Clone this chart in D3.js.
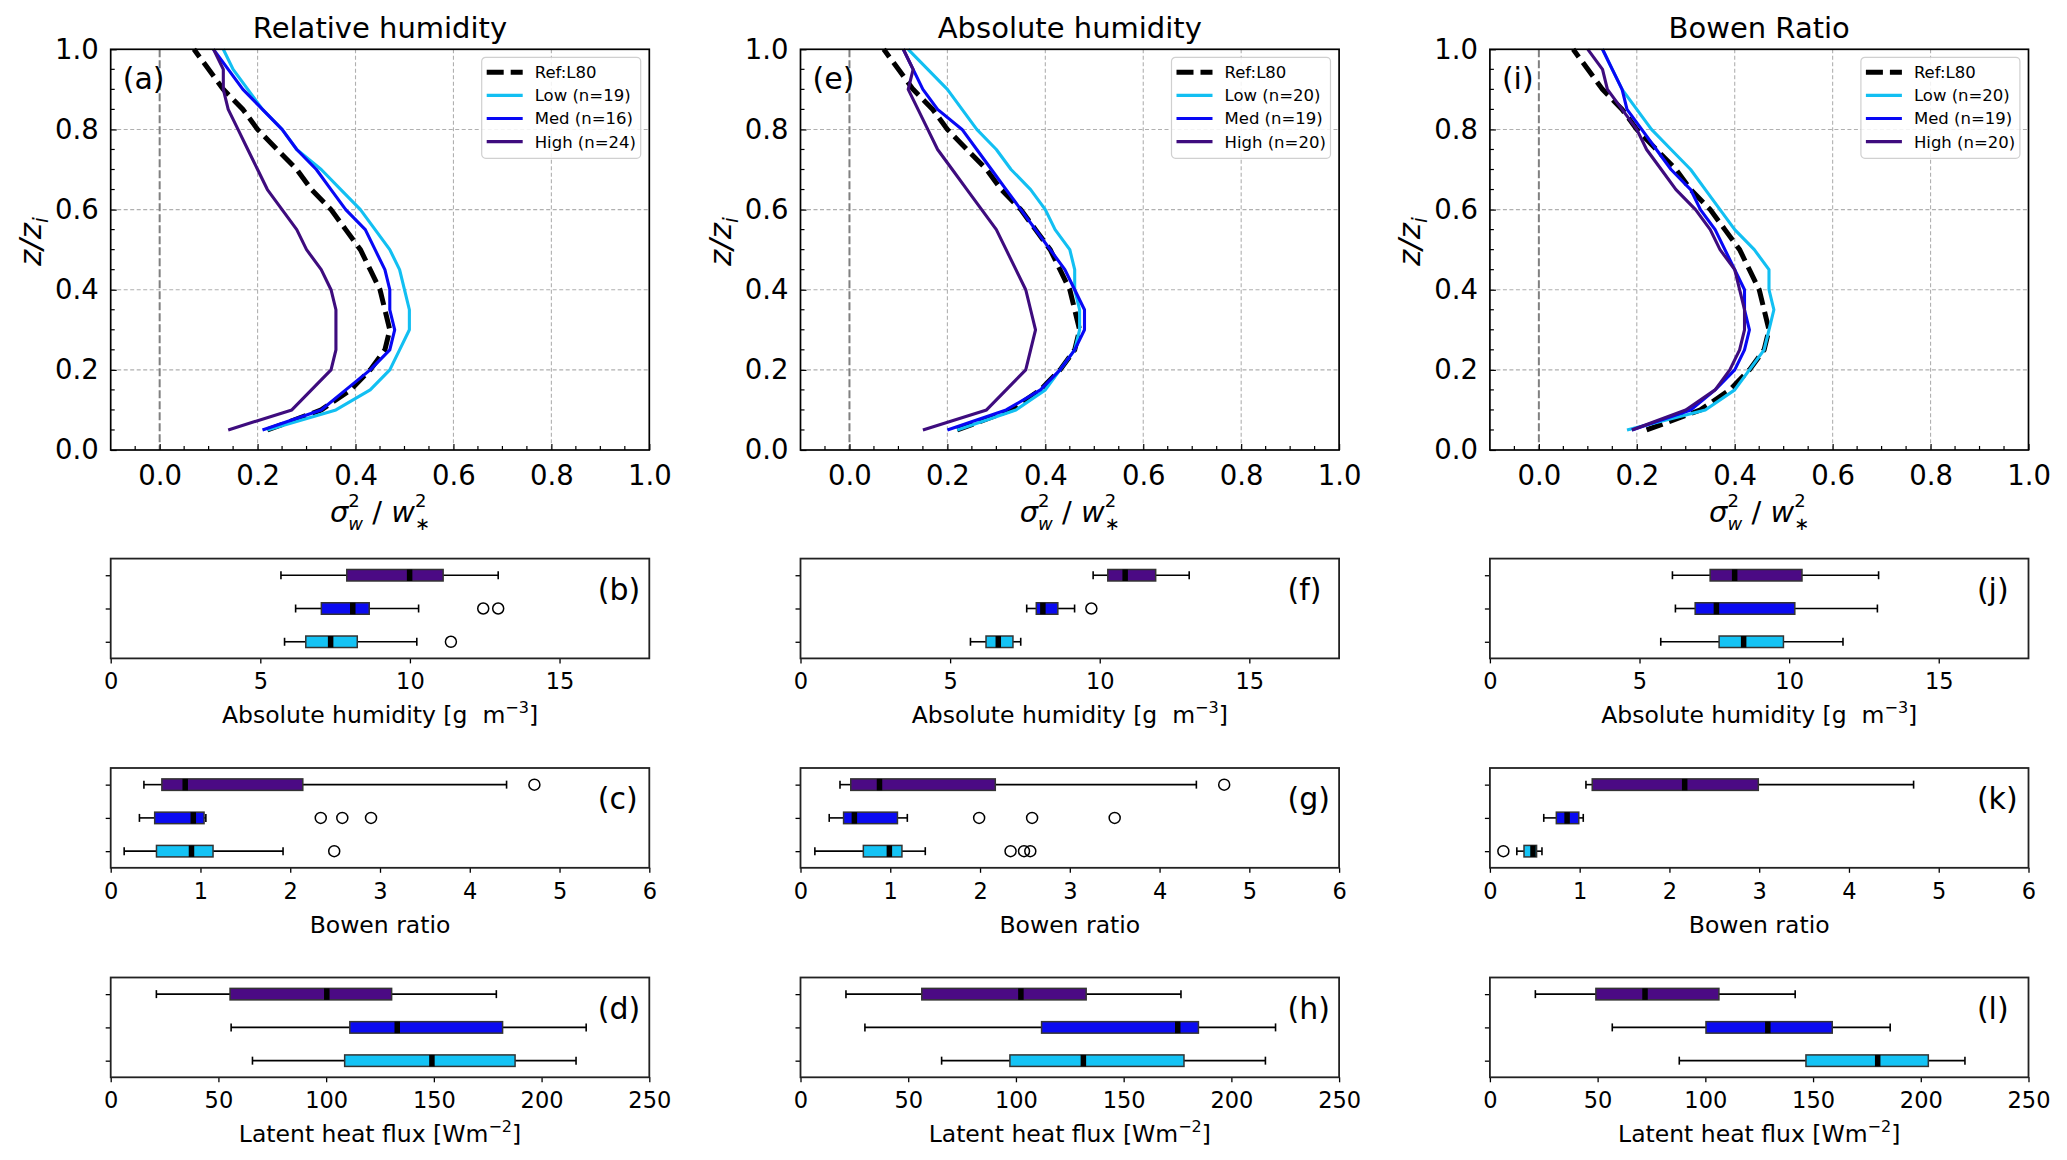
<!DOCTYPE html>
<html>
<head>
<meta charset="utf-8">
<script src="https://cdn.jsdelivr.net/npm/d3@7"></script>
<style>
body { margin: 0; background: #fff; }
text { font-family: "DejaVu Sans", sans-serif; fill: #000; }
</style>
</head>
<body>
<svg id="fig" width="2067" height="1160"></svg>
<script>
// heights of the profiles (z/zi)
var heights = [0.05, 0.10, 0.15, 0.20, 0.25, 0.30, 0.35, 0.40, 0.45, 0.50,
               0.55, 0.60, 0.65, 0.70, 0.75, 0.80, 0.85, 0.90, 0.95, 1.00];

// reference profile (Lenschow 1980)
var refL80 = [0.22, 0.33, 0.39, 0.43, 0.46, 0.47, 0.46, 0.45, 0.43, 0.41,
              0.38, 0.35, 0.31, 0.28, 0.24, 0.20, 0.17, 0.13, 0.10, 0.07];

// relative humidity classes
var rhLow  = [0.22, 0.36, 0.43, 0.47, 0.49, 0.51, 0.51, 0.50, 0.49, 0.47, 0.44, 0.41, 0.37, 0.33, 0.28, 0.25, 0.21, 0.18, 0.15, 0.13];
var rhMed  = [0.21, 0.33, 0.38, 0.43, 0.47, 0.48, 0.47, 0.47, 0.46, 0.44, 0.42, 0.38, 0.35, 0.32, 0.28, 0.25, 0.21, 0.17, 0.14, 0.11];
var rhHigh = [0.14, 0.27, 0.31, 0.35, 0.36, 0.36, 0.36, 0.35, 0.33, 0.30, 0.28, 0.25, 0.22, 0.20, 0.18, 0.16, 0.14, 0.13, 0.13, 0.11];
var rhLabels = ["Low (n=19)", "Med (n=16)", "High (n=24)"];

// absolute humidity classes
var ahLow  = [0.22, 0.34, 0.40, 0.43, 0.46, 0.47, 0.47, 0.46, 0.46, 0.45, 0.42, 0.40, 0.37, 0.33, 0.30, 0.26, 0.23, 0.20, 0.16, 0.12];
var ahMed  = [0.20, 0.32, 0.39, 0.43, 0.46, 0.48, 0.48, 0.46, 0.44, 0.41, 0.38, 0.35, 0.32, 0.29, 0.26, 0.23, 0.18, 0.15, 0.13, 0.11];
var ahHigh = [0.15, 0.28, 0.32, 0.36, 0.37, 0.38, 0.37, 0.36, 0.34, 0.32, 0.30, 0.27, 0.24, 0.21, 0.18, 0.16, 0.14, 0.12, 0.13, 0.11];
var ahLabels = ["Low (n=20)", "Med (n=19)", "High (n=20)"];

// Bowen ratio classes
var brLow  = [0.18, 0.34, 0.40, 0.43, 0.46, 0.47, 0.48, 0.47, 0.47, 0.44, 0.40, 0.37, 0.34, 0.31, 0.27, 0.23, 0.20, 0.17, 0.15, 0.13];
var brMed  = [0.19, 0.31, 0.36, 0.40, 0.42, 0.43, 0.42, 0.42, 0.40, 0.38, 0.36, 0.33, 0.31, 0.27, 0.24, 0.21, 0.18, 0.17, 0.15, 0.13];
var brHigh = [0.19, 0.30, 0.36, 0.39, 0.41, 0.42, 0.42, 0.41, 0.40, 0.37, 0.35, 0.32, 0.28, 0.25, 0.22, 0.20, 0.17, 0.14, 0.13, 0.10];
var brLabels = ["Low (n=20)", "Med (n=19)", "High (n=20)"];

var profTicks = [0.0, 0.2, 0.4, 0.6, 0.8, 1.0];

// box stats [whisker low, q1, median, q3, whisker high], rows Low, Med, High
var boxB = [[5.81, 6.52, 7.35, 8.24, 10.23], [6.18, 7.04, 8.09, 8.64, 10.29], [5.69, 7.89, 9.99, 11.11, 12.95]];
var flierB = [[11.37], [12.45, 12.95], []];
var boxC = [[0.15, 0.51, 0.90, 1.14, 1.92], [0.32, 0.49, 0.92, 1.04, 1.06], [0.37, 0.57, 0.83, 2.14, 4.41]];
var flierC = [[2.49], [2.34, 2.58, 2.90], [4.72]];
var boxD = [[65.8, 108.6, 149.1, 187.7, 216], [55.9, 111, 133, 181.9, 220.7], [21.2, 55.4, 100.3, 130.4, 179]];
var flierD = [[], [], []];

var boxF = [[5.68, 6.20, 6.61, 7.10, 7.36], [7.56, 7.88, 8.10, 8.60, 9.16], [9.78, 10.27, 10.85, 11.87, 12.99]];
var flierF = [[], [9.72], []];
var boxG = [[0.16, 0.70, 0.99, 1.13, 1.39], [0.32, 0.48, 0.60, 1.08, 1.19], [0.44, 0.56, 0.88, 2.17, 4.41]];
var flierG = [[2.34, 2.49, 2.56], [1.99, 2.58, 3.50], [4.72]];
var boxH = [[65.5, 97.2, 131.3, 178, 215.8], [29.9, 111.9, 175.1, 184.7, 220.5], [21.1, 56.3, 102.3, 132.6, 176.6]];
var flierH = [[], [], []];

var boxJ = [[5.71, 7.66, 8.48, 9.81, 11.8], [6.20, 6.86, 7.57, 10.19, 12.95], [6.10, 7.36, 8.18, 10.43, 12.99]];
var flierJ = [[], [], []];
var boxK = [[0.30, 0.38, 0.48, 0.52, 0.58], [0.60, 0.74, 0.86, 0.99, 1.04], [1.07, 1.14, 2.17, 2.99, 4.72]];
var flierK = [[0.15], [], []];
var boxL = [[87.9, 146.7, 180, 203.5, 220.5], [56.8, 100.3, 129, 158.9, 185.8], [21.1, 49.2, 72, 106.3, 141.7]];
var flierL = [[], [], []];

var ahTicks = [0, 5, 10, 15];
var brTicks = [0, 1, 2, 3, 4, 5, 6];
var leTicks = [0, 50, 100, 150, 200, 250];

var lineColors = ["#12bff2", "#0808f4", "#3e0c7e"];
var boxColors = ["#14c3f5", "#0a0af0", "#4b0a84"];

// layout
var colLeft = [110.7, 800.5, 1489.9];
var panelW = 538.6;
var profTop = 49.3, profH = 400.7;
var boxTop = [558.6, 768, 977.5], boxPanelH = 99.8;

var svg = d3.select("#fig");

// text made of pieces (sub/superscripts), centred on cx
function mathText(parent, parts, cx, cy, rotate) {
    var g = parent.append("g");
    var cursor = 0, stackStart = null, stackW = 0;
    parts.forEach(function (p) {
        var t = g.append("text")
            .attr("x", stackStart != null ? stackStart : cursor)
            .attr("y", p.dy || 0)
            .style("font-size", p.size + "px")
            .style("font-style", p.italic ? "italic" : "normal")
            .text(p.t);
        var w = t.node().getComputedTextLength();
        if (p.stack) {
            stackStart = cursor; stackW = w;
        } else if (stackStart != null) {
            cursor = stackStart + Math.max(stackW, w); stackStart = null;
        } else {
            cursor += w;
        }
    });
    g.attr("transform", "translate(" + cx + "," + cy + ")" + (rotate ? " rotate(-90)" : "") +
        " translate(" + (-cursor / 2) + ",0)");
}

function drawProfile(i, title, tag, series, labels) {
    var g = svg.append("g").attr("transform", "translate(" + colLeft[i] + "," + profTop + ")");
    var x = d3.scaleLinear().domain([-0.1, 1.0]).range([0, panelW]);
    var y = d3.scaleLinear().domain([0, 1]).range([profH, 0]);

    // grid
    g.selectAll(".gx").data([0.2, 0.4, 0.6, 0.8]).enter().append("line")
        .attr("x1", d => x(d)).attr("x2", d => x(d)).attr("y1", 0).attr("y2", profH)
        .attr("stroke", "#b0b0b0").attr("stroke-width", 1.1).attr("stroke-dasharray", "4,2.5");
    g.selectAll(".gy").data([0.2, 0.4, 0.6, 0.8]).enter().append("line")
        .attr("y1", d => y(d)).attr("y2", d => y(d)).attr("x1", 0).attr("x2", panelW)
        .attr("stroke", "#b0b0b0").attr("stroke-width", 1.1).attr("stroke-dasharray", "4,2.5");
    // zero line
    g.append("line").attr("x1", x(0)).attr("x2", x(0)).attr("y1", 0).attr("y2", profH)
        .attr("stroke", "#808080").attr("stroke-width", 2).attr("stroke-dasharray", "8,3");

    // minor ticks (inward)
    var minor = d3.range(-0.05, 1.0, 0.05).filter(v => Math.abs(v / 0.2 - Math.round(v / 0.2)) > 0.01);
    g.selectAll(".mx").data(minor).enter().append("line")
        .attr("x1", d => x(d)).attr("x2", d => x(d)).attr("y1", profH).attr("y2", profH - 4)
        .attr("stroke", "#000").attr("stroke-width", 1.2);
    var minorY = d3.range(0.05, 1.0, 0.05).filter(v => Math.abs(v / 0.2 - Math.round(v / 0.2)) > 0.01);
    g.selectAll(".my").data(minorY).enter().append("line")
        .attr("y1", d => y(d)).attr("y2", d => y(d)).attr("x1", 0).attr("x2", 4)
        .attr("stroke", "#000").attr("stroke-width", 1.2);

    // axes
    var ax = g.append("g").attr("transform", "translate(0," + profH + ")")
        .call(d3.axisBottom(x).tickValues(profTicks).tickFormat(d3.format(".1f")).tickSize(-6).tickPadding(15));
    var ay = g.append("g")
        .call(d3.axisLeft(y).tickValues(profTicks).tickFormat(d3.format(".1f")).tickSize(-6).tickPadding(12));
    [ax, ay].forEach(function (a) {
        a.select(".domain").remove();
        a.selectAll("text").style("font-size", "27.5px").style("font-family", "DejaVu Sans");
        a.selectAll("line").attr("stroke-width", 1.2);
    });

    // profiles
    var line = d3.line().x(d => x(d[0])).y(d => y(d[1]));
    g.append("path").datum(refL80.map((v, k) => [v, heights[k]])).attr("d", line)
        .attr("fill", "none").attr("stroke", "#000").attr("stroke-width", 5).attr("stroke-dasharray", "17,7");
    series.forEach(function (s, k) {
        g.append("path").datum(s.map((v, j) => [v, heights[j]])).attr("d", line)
            .attr("fill", "none").attr("stroke", lineColors[k]).attr("stroke-width", 3.1)
            .attr("stroke-linejoin", "round");
    });

    // frame
    g.append("rect").attr("width", panelW).attr("height", profH)
        .attr("fill", "none").attr("stroke", "#000").attr("stroke-width", 1.7);

    // legend
    var lg = g.append("g").attr("transform", "translate(371,8)");
    lg.append("rect").attr("width", 159).attr("height", 101).attr("rx", 4)
        .attr("fill", "#fff").attr("fill-opacity", 0.85).attr("stroke", "#d0d0d0").attr("stroke-width", 1.2);
    var entries = ["Ref:L80"].concat(labels);
    entries.forEach(function (lab, k) {
        var cy = 15 + k * 23.1;
        lg.append("line").attr("x1", 5).attr("x2", 41).attr("y1", cy).attr("y2", cy)
            .attr("stroke", k === 0 ? "#000" : lineColors[k - 1])
            .attr("stroke-width", k === 0 ? 5 : 3.1)
            .attr("stroke-dasharray", k === 0 ? "17,7" : null);
        lg.append("text").attr("x", 53).attr("y", cy + 6).style("font-size", "16.5px").text(lab);
    });

    // title and panel tag
    g.append("text").attr("x", panelW / 2).attr("y", -11).attr("text-anchor", "middle")
        .style("font-size", "29px").text(title);
    g.append("text").attr("x", 12).attr("y", 40).style("font-size", "30px").text(tag);

    // axis labels
    mathText(g, [
        { t: "σ", size: 29, italic: true },
        { t: "2", size: 18, dy: -15, stack: true },
        { t: "w", size: 18, dy: 8, italic: true },
        { t: "\u00a0/\u00a0", size: 29 },
        { t: "w", size: 29, italic: true },
        { t: "2", size: 18, dy: -15, stack: true },
        { t: "∗", size: 18, dy: 8 }
    ], panelW / 2, profH + 72);
    mathText(g, [
        { t: "z/z", size: 31, italic: true },
        { t: "i", size: 21, dy: 7, italic: true }
    ], -70, profH / 2 - 8, true);
}

function drawBox(i, row, tag, maxX, ticks, stats, fliers, xlabel) {
    var g = svg.append("g").attr("transform", "translate(" + colLeft[i] + "," + boxTop[row] + ")");
    var x = d3.scaleLinear().domain([0, maxX]).range([0, panelW]);
    var y = d3.scaleLinear().domain([0.5, 3.5]).range([boxPanelH, 0]);
    var bh = 11.5, cap = 8;

    var ax = g.append("g").attr("transform", "translate(0," + boxPanelH + ")")
        .call(d3.axisBottom(x).tickValues(ticks).tickFormat(d3.format("d")).tickSize(5).tickPadding(10));
    var ay = g.append("g").call(d3.axisLeft(y).tickValues([1, 2, 3]).tickFormat("").tickSize(5));
    [ax, ay].forEach(function (a) {
        a.select(".domain").remove();
        a.selectAll("text").style("font-size", "22.5px").style("font-family", "DejaVu Sans");
        a.selectAll("line").attr("stroke-width", 1.3);
    });

    stats.forEach(function (s, k) {
        var cy = y(k + 1);
        var b = g.append("g");
        // whiskers
        b.append("line").attr("x1", x(s[0])).attr("x2", x(s[1])).attr("y1", cy).attr("y2", cy)
            .attr("stroke", "#000").attr("stroke-width", 1.6);
        b.append("line").attr("x1", x(s[3])).attr("x2", x(s[4])).attr("y1", cy).attr("y2", cy)
            .attr("stroke", "#000").attr("stroke-width", 1.6);
        [s[0], s[4]].forEach(function (v) {
            b.append("line").attr("x1", x(v)).attr("x2", x(v)).attr("y1", cy - cap / 2).attr("y2", cy + cap / 2)
                .attr("stroke", "#000").attr("stroke-width", 1.6);
        });
        // box
        b.append("rect").attr("x", x(s[1])).attr("y", cy - bh / 2)
            .attr("width", x(s[3]) - x(s[1])).attr("height", bh)
            .attr("fill", boxColors[k]).attr("stroke", "#333").attr("stroke-width", 1.5);
        // median
        b.append("line").attr("x1", x(s[2])).attr("x2", x(s[2])).attr("y1", cy - bh / 2).attr("y2", cy + bh / 2)
            .attr("stroke", "#000").attr("stroke-width", 5.5);
        // outliers
        b.selectAll("circle").data(fliers[k]).enter().append("circle")
            .attr("cx", d => x(d)).attr("cy", cy).attr("r", 5.5)
            .attr("fill", "none").attr("stroke", "#000").attr("stroke-width", 1.5);
    });

    g.append("rect").attr("width", panelW).attr("height", boxPanelH)
        .attr("fill", "none").attr("stroke", "#222").attr("stroke-width", 1.8);

    g.append("text").attr("x", 487).attr("y", 41).style("font-size", "30px").text(tag);
    mathText(g, xlabel, panelW / 2, boxPanelH + 65);
}

var ahLabel = [
    { t: "Absolute humidity [g\u00a0\u00a0m", size: 23.5 },
    { t: "\u22123", size: 16, dy: -10 },
    { t: "]", size: 23.5 }
];
var brLabel = [{ t: "Bowen ratio", size: 23.5 }];
var leLabel = [
    { t: "Latent heat flux [Wm", size: 23.5 },
    { t: "\u22122", size: 16, dy: -10 },
    { t: "]", size: 23.5 }
];

drawProfile(0, "Relative humidity", "(a)", [rhLow, rhMed, rhHigh], rhLabels);
drawProfile(1, "Absolute humidity", "(e)", [ahLow, ahMed, ahHigh], ahLabels);
drawProfile(2, "Bowen Ratio", "(i)", [brLow, brMed, brHigh], brLabels);

drawBox(0, 0, "(b)", 18, ahTicks, boxB, flierB, ahLabel);
drawBox(0, 1, "(c)", 6, brTicks, boxC, flierC, brLabel);
drawBox(0, 2, "(d)", 250, leTicks, boxD, flierD, leLabel);
drawBox(1, 0, "(f)", 18, ahTicks, boxF, flierF, ahLabel);
drawBox(1, 1, "(g)", 6, brTicks, boxG, flierG, brLabel);
drawBox(1, 2, "(h)", 250, leTicks, boxH, flierH, leLabel);
drawBox(2, 0, "(j)", 18, ahTicks, boxJ, flierJ, ahLabel);
drawBox(2, 1, "(k)", 6, brTicks, boxK, flierK, brLabel);
drawBox(2, 2, "(l)", 250, leTicks, boxL, flierL, leLabel);
</script>
</body>
</html>
